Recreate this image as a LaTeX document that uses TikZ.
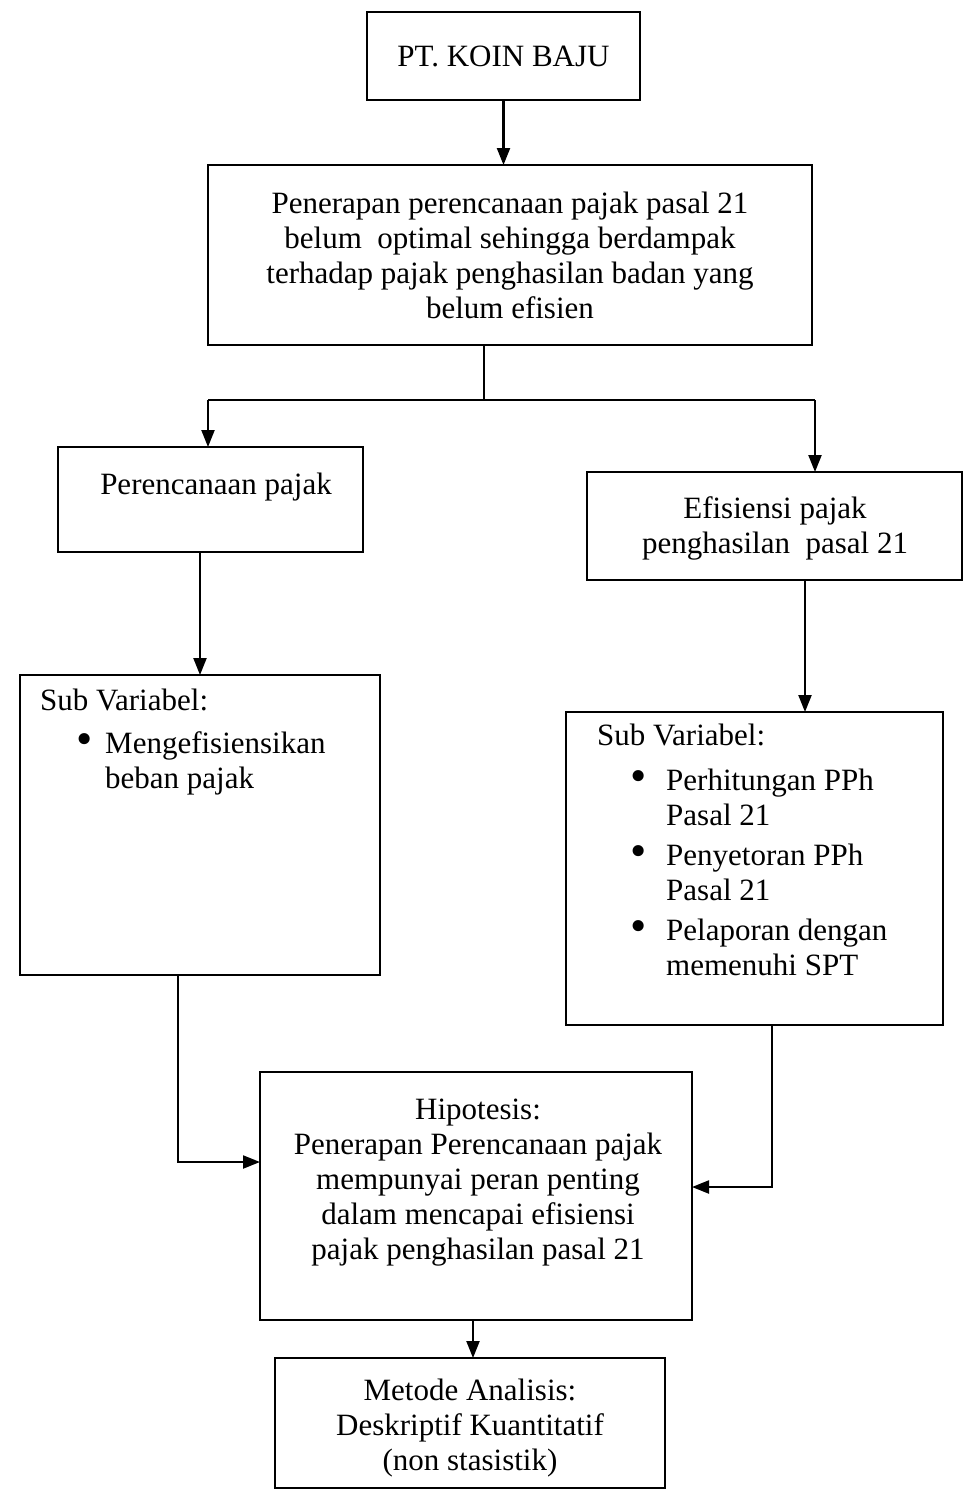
\documentclass[tikz,border=0pt]{standalone}
\usepackage{fontspec}
\setmainfont{Liberation Serif}
\usetikzlibrary{arrows.meta}
\newcommand{\bigdot}{\raisebox{-1pt}{\scalebox{1.5}{\textbullet}}}
\begin{document}
\begin{tikzpicture}[x=1pt,y=-1pt,
 box/.style={draw, line width=2.6pt, inner sep=0pt, outer sep=0pt},
 txt/.style={font=\fontsize{31}{35}\selectfont, inner sep=0pt, align=center},
 arr/.style={line width=2.2pt, -{Triangle[length=17pt,width=13pt]}},
 ln/.style={line width=2.2pt}]
\useasboundingbox (0,0) rectangle (965,1497);
% boxes
\node[box, minimum width=273, minimum height=88] (b1) at (503.5,56) {};
\node[box, minimum width=604, minimum height=180] (b2) at (510,255) {};
\node[box, minimum width=305, minimum height=105] (b3) at (210.5,499.5) {};
\node[box, minimum width=375, minimum height=108] (b4) at (774.5,526) {};
\node[box, minimum width=360, minimum height=300] (b5) at (200,825) {};
\node[box, minimum width=377, minimum height=313] (b6) at (754.5,868.5) {};
\node[box, minimum width=432, minimum height=248] (b7) at (476,1196) {};
\node[box, minimum width=390, minimum height=130] (b8) at (470,1423) {};
% texts
\node[txt] (t1) at (b1.center) {PT. KOIN BAJU};
\node[txt] (t2) at (b2.center) {Penerapan perencanaan pajak pasal 21\\belum\ \ optimal sehingga berdampak\\terhadap pajak penghasilan badan yang\\belum efisien};
\node[txt] (t3) at (216,487) {Perencanaan pajak};
\node[txt] (t4) at (775,528) {Efisiensi pajak\\penghasilan\ \ pasal 21};
\node[txt, align=left, anchor=north west] (t5) at (40,689) {Sub Variabel:\\[8pt]
 \hspace*{36pt}\makebox[29pt][l]{\bigdot}Mengefisiensikan\\
 \hspace*{65pt}beban pajak};
\node[txt, align=left, anchor=north west] (t6) at (597,724) {Sub Variabel:\\[10pt]
 \hspace*{33pt}\makebox[36pt][l]{\bigdot}Perhitungan PPh\\
 \hspace*{69pt}Pasal 21\\[5pt]
 \hspace*{33pt}\makebox[36pt][l]{\bigdot}Penyetoran PPh\\
 \hspace*{69pt}Pasal 21\\[5pt]
 \hspace*{33pt}\makebox[36pt][l]{\bigdot}Pelaporan dengan\\
 \hspace*{69pt}memenuhi SPT};
\node[txt] (t7) at (478,1183) {Hipotesis:\\Penerapan Perencanaan pajak\\mempunyai peran penting\\dalam mencapai efisiensi\\pajak penghasilan pasal 21};
\node[txt] (t8) at (470,1428) {Metode Analisis:\\Deskriptif Kuantitatif\\(non stasistik)};
% connectors
\draw[arr] (b1.south) -- (b1.south |- b2.north);
\coordinate (j) at (484,400);
\coordinate (jl) at (208,400);
\coordinate (jr) at (815,400);
\draw[ln] (j |- b2.south) -- (j);
\draw[ln] (jl) -- (jr);
\draw[arr] (jl) -- (jl |- b3.north);
\draw[arr] (jr) -- (jr |- b4.north);
\draw[arr] (b5.north |- b3.south) -- (b5.north);
\coordinate (c46) at (805,600);
\draw[arr] (c46 |- b4.south) -- (c46 |- b6.north);
\coordinate (l5) at (178,1162);
\draw[arr] (l5 |- b5.south) -- (l5) -- (l5 -| b7.west);
\coordinate (r6) at (772,1187);
\draw[arr] (r6 |- b6.south) -- (r6) -- (r6 -| b7.east);
\draw[arr] (473,0 |- b7.south) -- (473,0 |- b8.north);
\end{tikzpicture}
\end{document}
